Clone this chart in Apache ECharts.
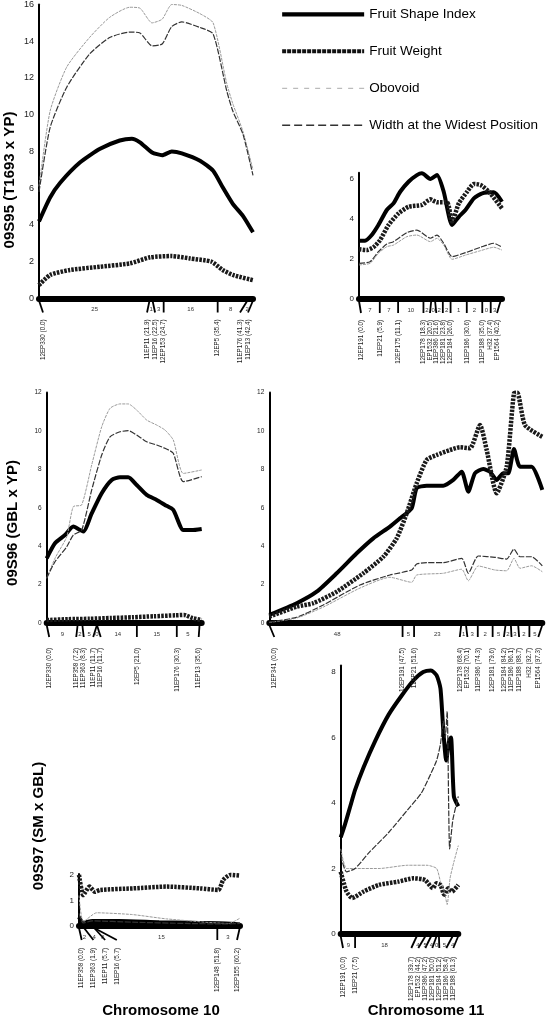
<!DOCTYPE html>
<html><head><meta charset="utf-8">
<script src="https://cdn.jsdelivr.net/npm/echarts@6/dist/echarts.min.js"></script>
<style>html,body{margin:0;padding:0;background:#fff}#c{width:549px;height:1023px}</style>
</head><body><div id="c"></div>
<script>
const seriesNames = ['Fruit Shape Index','Fruit Weight','Obovoid','Width at the Widest Position'];

// Panel 1: 09S95, chromosome 10
const p1Markers = ['12EP330','11EP11','11EP16','12EP153','12EP5','11EP176','11EP13'];
const p1Pos = [0.0,21.9,22.5,24.7,35.4,41.3,42.4];
const p1Intervals = ['25','1','3','16','8','2'];
const p1FSI = [[0,4.2],[2.2,5.5],[4.2,6.3],[8.1,7.4],[12.1,8.15],[16,8.6],[18.4,8.7],[20,8.5],[22.4,7.95],[24.4,7.8],[26.3,8.0],[28.3,7.9],[31.9,7.5],[34.5,6.95],[36.4,6.05],[38.4,5.15],[40.4,4.5],[42.4,3.6]];
const p1FW = [[0,0.73],[2.2,1.28],[6.1,1.55],[12.1,1.73],[18,1.91],[22,2.24],[26.3,2.31],[29.9,2.18],[34.2,2.0],[36.4,1.55],[38.4,1.28],[42.4,1.0]];
const p1Obo = [[0,6.1],[2.2,10.2],[5.5,12.6],[10,14.2],[14,15.3],[18,15.85],[20,15.8],[22.4,15.0],[24.4,15.2],[26.3,16.0],[28.3,15.95],[31.9,15.5],[34.5,15.0],[37.2,11.7],[38.4,10.6],[40.4,9.1],[42.4,7.0]];
const p1Wid = [[0,5.8],[2.2,9.3],[5.5,11.5],[10,13.3],[14,14.2],[18,14.5],[20,14.45],[22.4,13.75],[24.4,13.85],[26.3,14.8],[28.3,15.05],[31.9,14.75],[34.5,14.4],[37.2,11.3],[38.4,10.2],[40.4,8.95],[42.4,6.7]];

// Panel 2: 09S95, chromosome 11
const p2Markers = ['12EP191','11EP21','12EP175','12EP178','EP1532','11EP386','12EP181','12EP184','11EP186','11EP188','H32','EP1564'];
const p2Pos = [0.0,5.9,11.1,18.3,20.5,21.6,23.8,26.0,30.6,35.0,37.4,40.2];
const p2Intervals = ['7','7','10','2','0','2','2','1','2','0','3'];
const p2FSI = [[0,2.91],[1.71,2.91],[3.61,3.19],[5.51,3.69],[7.89,4.44],[9.79,4.77],[11.69,5.35],[14.07,5.85],[16.44,6.18],[17.87,6.27],[20.25,5.99],[22.15,6.18],[24.05,5.35],[26.43,3.69],[28.33,4.1],[30.23,4.44],[32.61,5.02],[34.99,5.27],[38.3,5.32],[40.6,4.85]];
const p2FW = [[0,2.48],[2.19,2.44],[4.09,2.58],[5.99,2.94],[8.37,3.69],[11.22,4.27],[14.07,4.6],[17.87,4.69],[20.25,4.97],[22.15,4.82],[25.0,4.82],[26.43,3.86],[28.33,4.77],[30.71,5.35],[32.61,5.74],[34.5,5.69],[36.88,5.35],[40.6,4.52]];
const p2Obo = [[0,1.7],[3.14,1.78],[5.51,2.28],[7.89,2.61],[9.79,2.69],[13.59,3.11],[16.44,3.19],[20.25,2.86],[22.15,3.03],[24.05,2.69],[26.43,1.98],[30.23,2.19],[34.5,2.41],[38.3,2.58],[40.6,2.44]];
const p2Wid = [[0,1.78],[3.14,1.86],[5.51,2.36],[7.89,2.74],[9.79,2.86],[13.59,3.31],[16.44,3.44],[20.25,3.03],[22.15,3.19],[24.05,2.78],[26.43,2.11],[30.23,2.31],[34.5,2.58],[38.3,2.78],[40.6,2.58]];

// Panel 3: 09S96, chromosome 10
const p3Markers = ['12EP330','11EP358','11EP363','11EP11','11EP16','12EP5','11EP176','11EP13'];
const p3Pos = [0.0,7.2,8.3,11.7,11.7,21.0,30.3,35.6];
const p3Intervals = ['9','2','5','0','14','15','5'];
const p3FSI = [[0,3.37],[1.93,4.15],[4.26,4.58],[6.19,5.02],[8.52,4.76],[10.48,5.71],[12.81,6.76],[15.14,7.45],[17.07,7.59],[19.0,7.59],[20.96,7.19],[23.29,6.67],[25.62,6.41],[27.55,6.15],[29.48,5.89],[31.81,4.84],[33.77,4.84],[36.1,4.9]];
const p3FW = [[0,0.15],[5,0.2],[10,0.22],[15,0.26],[20,0.3],[25,0.35],[30,0.4],[32,0.42],[34,0.25],[36.1,0.15]];
const p3Obo = [[0,2.33],[1.93,3.37],[4.66,4.49],[6.19,6.06],[8.15,6.15],[10.48,8.23],[12.81,10.22],[14.75,11.18],[17.07,11.41],[19.0,11.41],[20.96,11.09],[23.29,10.57],[25.62,10.31],[27.55,10.05],[29.48,9.53],[31.81,7.79],[36.1,7.97]];
const p3Wid = [[0,2.33],[1.93,3.19],[4.66,3.97],[6.19,4.58],[8.15,4.84],[10.48,6.93],[12.81,8.75],[14.75,9.7],[17.07,9.96],[19.0,10.02],[20.96,9.79],[23.29,9.44],[25.62,9.27],[27.55,9.1],[29.48,8.84],[31.81,7.36],[36.1,7.62]];

// Panel 4: 09S96, chromosome 11
const p4Markers = ['12EP341','12EP191','11EP21','12EP178','EP1532','11EP386','12EP181','12EP184','11EP186','11EP188','H32','EP1564'];
const p4Pos = [0.0,47.5,51.6,68.4,70.1,74.3,79.6,84.2,86.1,88.7,92.7,97.3];
const p4Intervals = ['48','5','23','1','3','2','5','2','3','2','5'];
const p4FSI = [[0,0.42],[9.76,1.03],[16.89,1.63],[24.02,2.59],[31.15,3.63],[37.06,4.41],[43.0,5.02],[46.57,5.45],[50.74,5.97],[52.53,7.02],[56.09,7.15],[62.01,7.15],[65.57,7.45],[68.57,7.88],[70.92,6.84],[73.3,7.8],[76.26,8.02],[78.65,7.88],[81.04,7.45],[83.39,7.8],[85.17,7.8],[87.2,9.06],[89.34,8.14],[93.51,8.14],[97.3,6.93]];
const p4FW = [[0,0.33],[9.76,0.85],[15.68,1.03],[24.02,1.63],[33.5,2.59],[40.63,3.45],[45.4,4.41],[48.97,5.71],[52.53,7.28],[56.09,8.49],[59.66,8.75],[64.4,9.01],[67.96,9.15],[71.53,9.1],[75.09,10.31],[77.48,9.01],[81.04,6.76],[84.6,8.14],[87.2,11.96],[88.38,11.99],[91.13,10.31],[97.3,9.7]];
const p4Obo = [[0,0.03],[9.76,0.26],[19.24,0.83],[32.32,1.82],[43.0,2.38],[50.74,2.12],[52.53,2.5],[62.01,2.59],[68.57,2.8],[70.92,2.2],[74.48,2.97],[80.43,2.76],[84.6,2.72],[87.2,3.37],[89.34,2.85],[93.51,2.98],[97.3,2.67]];
const p4Wid = [[0,0.05],[9.76,0.3],[19.24,0.94],[32.32,1.98],[43.0,2.5],[50.74,2.76],[52.53,3.07],[56.09,3.14],[62.01,3.14],[68.57,3.37],[70.92,2.59],[74.48,3.49],[80.43,3.42],[84.6,3.33],[87.2,3.85],[89.34,3.45],[93.51,3.45],[97.3,2.97]];

// Panel 5: 09S97, chromosome 10
const p5Markers = ['11EP358','11EP363','11EP11','11EP16','12EP148','12EP155'];
const p5Pos = [0.0,1.9,5.7,5.7,51.8,60.2];
const p5Intervals = ['2','4','0','15','3'];
const p5FSI = [[0,0.35],[1.5,0.12],[5,0.2],[15,0.2],[30,0.15],[45,0.12],[55,0.1],[60.3,0.06]];
const p5FW = [[0,2.01],[1.6,1.22],[3.9,1.55],[6.0,1.35],[7.9,1.42],[20.3,1.48],[32.8,1.55],[45.3,1.48],[52.2,1.42],[54.0,1.81],[56.6,2.01],[60.3,1.98]];
const p5Obo = [[0,1.2],[1.6,0.17],[6.6,0.52],[20,0.45],[32.8,0.28],[56.2,0.1],[60.3,0.31]];
const p5Wid = [[0,0.5],[1.5,0.12],[5,0.2],[20,0.15],[40,0.1],[55,0.08],[60.3,0.1]];

// Panel 6: 09S97, chromosome 11
const p6Markers = ['12EP191','11EP21','12EP178','EP1532','11EP386','12EP181','12EP184','11EP186','11EP188'];
const p6Pos = [0.0,7.5,39.7,44.2,47.2,50.0,51.2,58.4,61.3];
const p6Intervals = ['9','18','4','5','4','0','5','4'];
const p6FSI = [[0,2.95],[2,3.3],[5,3.9],[7.5,4.4],[12,5.1],[18,5.9],[25,6.7],[32,7.3],[38,7.75],[43,8.0],[47,8.05],[50,7.9],[52,7.5],[53.5,6.2],[55,5.3],[56.5,5.9],[57.5,6.0],[59,4.2],[61.3,3.9]];
const p6FW = [[0,1.9],[3,1.3],[6,1.1],[12,1.3],[20,1.5],[30,1.6],[38,1.7],[44,1.65],[48,1.4],[50,1.55],[52,1.5],[54,1.2],[56,1.4],[58,1.3],[61.3,1.5]];
const p6Obo = [[0,2.6],[3,2.0],[7.5,2.0],[20,2.0],[35,2.1],[45,2.1],[50,2.0],[52,1.6],[54,1.3],[55.5,0.9],[57,1.7],[59,2.2],[61.3,2.7]];
const p6Wid = [[0,2.4],[3,1.9],[7.5,2.0],[15,2.5],[25,3.1],[35,3.8],[42,4.3],[47,4.9],[50,5.3],[52,5.8],[53.5,6.5],[54.5,6.0],[55.5,6.8],[56.8,2.6],[58.5,3.5],[61.3,4.2]];

const yTickStep = [2,2,2,2,1,2];
const rowTitles = ['09S95 (T1693 x YP)','09S96 (GBL x YP)','09S97 (SM x GBL)'];
const colTitles = ['Chromosome 10','Chromosome 11'];

const FONT = '"Liberation Sans", Arial, Helvetica, sans-serif';

// layout (pixel boxes) per panel
const layout = [
  {left:39, top:3.7, width:214, height:294.8, xmax:42.4, ymax:16, yFont:9, gap:8, lo:4, hi:5, labelTop:18},
  {left:359, top:172.7, width:143, height:126.3, xmax:40.6, ymax:6.3, yFont:8, gap:6.3, lo:2, hi:5, labelTop:18},
  {left:46.7, top:392.6, width:155, height:230.4, xmax:36.1, ymax:12, yFont:6.5, gap:7.5, lo:2.5, hi:3, labelTop:22},
  {left:269.3, top:392.6, width:273, height:230.4, xmax:97.3, ymax:12, yFont:6.5, gap:7.6, lo:5, hi:4, labelTop:22},
  {left:79, top:873.9, width:161, height:52.1, xmax:60.3, ymax:2.05, yFont:8, gap:11.7, lo:2.7, hi:3, labelTop:19},
  {left:340.7, top:665.5, width:117.6, height:268.5, xmax:61.3, ymax:8.2, yFont:8, gap:7, lo:2.3, hi:5, labelTop:20}
];

const panelData = [
  {markers:p1Markers,pos:p1Pos,intervals:p1Intervals,lines:[p1FSI,p1FW,p1Obo,p1Wid]},
  {markers:p2Markers,pos:p2Pos,intervals:p2Intervals,lines:[p2FSI,p2FW,p2Obo,p2Wid]},
  {markers:p3Markers,pos:p3Pos,intervals:p3Intervals,lines:[p3FSI,p3FW,p3Obo,p3Wid]},
  {markers:p4Markers,pos:p4Pos,intervals:p4Intervals,lines:[p4FSI,p4FW,p4Obo,p4Wid]},
  {markers:p5Markers,pos:p5Pos,intervals:p5Intervals,lines:[p5FSI,p5FW,p5Obo,p5Wid]},
  {markers:p6Markers,pos:p6Pos,intervals:p6Intervals,lines:[p6FSI,p6FW,p6Obo,p6Wid]}
];

const lineStyles = [
  {color:'#000', width:4, type:'solid'},
  {color:'#1a1a1a', width:4.5, type:[2.5,1.2]},
  {color:'#9a9a9a', width:1, type:[3,1]},
  {color:'#333', width:1.2, type:[6,1.5]}
];
const legendStyles = [
  {color:'#000', width:4.3, type:'solid'},
  {color:'#111', width:4, type:[4,1]},
  {color:'#aaa', width:1, type:[5,6]},
  {color:'#333', width:1.4, type:[8,4]}
];

// spread marker labels so they keep a minimum gap (isotonic fit)
function spread(xs, gap, lo, hi) {
  const n = xs.length, blocks = [];
  for (let i = 0; i < n; i++) {
    blocks.push({n:1, sum: xs[i] - i*gap});
    while (blocks.length > 1) {
      const b = blocks[blocks.length-1], a = blocks[blocks.length-2];
      if (a.sum/a.n > b.sum/b.n) { a.sum += b.sum; a.n += b.n; blocks.pop(); } else break;
    }
  }
  const zs = [];
  blocks.forEach(b => { for (let k = 0; k < b.n; k++) zs.push(b.sum/b.n); });
  const zmax = hi - (n-1)*gap;
  return zs.map((z,i) => Math.min(Math.max(z, lo), zmax) + i*gap);
}

function makeRender(pd, L) {
  return function(params, api) {
    const y0 = api.coord([0,0])[1];
    const xEnd = api.coord([L.xmax,0])[0];
    const xs = pd.pos.map(p => api.coord([p,0])[0]);
    const lx = spread(xs, L.gap, xs[0] + L.lo, xEnd - L.hi);
    const yb = y0 + 3, yt = yb + 11;
    const ch = [];
    xs.forEach((x,i) => {
      ch.push({type:'line', shape:{x1:x, y1:yb-1, x2:lx[i], y2:yt}, style:{stroke:'#000', lineWidth:1.8}});
      ch.push({type:'text', x:lx[i], y:yb + L.labelTop, rotation:Math.PI/2,
        style:{text: pd.markers[i] + ' (' + pd.pos[i].toFixed(1) + ')', textAlign:'right', textVerticalAlign:'middle',
               font: '6.3px ' + FONT, fill:'#222'}});
    });
    pd.intervals.forEach((t,i) => {
      const cx = ((xs[i]+lx[i])/2 + (xs[i+1]+lx[i+1])/2)/2;
      ch.push({type:'text', x:cx, y:yb + 8, style:{text:t, textAlign:'center', textVerticalAlign:'middle', font:'6px ' + FONT, fill:'#333'}});
    });
    return {type:'group', children:ch};
  };
}

const grid = [], xAxis = [], yAxis = [], series = [];
layout.forEach((L, i) => {
  grid.push({left:L.left, top:L.top, width:L.width, height:L.height, containLabel:false});
  xAxis.push({type:'value', gridIndex:i, min:0, max:L.xmax,
    axisLine:{show:true, onZero:false, lineStyle:{color:'#000', width:6}},
    axisTick:{show:false}, axisLabel:{show:false}, splitLine:{show:false}});
  yAxis.push({type:'value', gridIndex:i, min:0, max:L.ymax, interval:yTickStep[i],
    axisLine:{show:true, lineStyle:{color:'#000', width:2}},
    axisTick:{show:false}, splitLine:{show:false},
    axisLabel:{show:true, fontSize:L.yFont, color:'#222', margin:5, fontFamily:FONT,
      showMaxLabel: (L.ymax % yTickStep[i]) === 0}});
  const pd = panelData[i];
  [2,3,1,0].forEach(k => {
    series.push({type:'line', name:seriesNames[k], xAxisIndex:i, yAxisIndex:i, data:pd.lines[k],
      symbol:'none', smooth:0.2, clip:false, silent:true, color:lineStyles[k].color,
      lineStyle:lineStyles[k], z:2+k});
  });
  series.push({type:'custom', xAxisIndex:i, yAxisIndex:i, data:[[0,0]], clip:false, silent:true,
    renderItem: makeRender(pd, L), z:10});
});

const graphic = [
  {type:'text', x:10, y:180, rotation:Math.PI/2, style:{text:rowTitles[0], font:'bold 15px ' + FONT, textAlign:'center', textVerticalAlign:'middle', fill:'#000'}},
  {type:'text', x:13, y:523, rotation:Math.PI/2, style:{text:rowTitles[1], font:'bold 15px ' + FONT, textAlign:'center', textVerticalAlign:'middle', fill:'#000'}},
  {type:'text', x:39, y:826, rotation:Math.PI/2, style:{text:rowTitles[2], font:'bold 15px ' + FONT, textAlign:'center', textVerticalAlign:'middle', fill:'#000'}},
  {type:'text', x:161, y:1011, style:{text:colTitles[0], font:'bold 15px ' + FONT, textAlign:'center', textVerticalAlign:'middle', fill:'#000'}},
  {type:'text', x:426, y:1011, style:{text:colTitles[1], font:'bold 15px ' + FONT, textAlign:'center', textVerticalAlign:'middle', fill:'#000'}}
];

const chart = echarts.init(document.getElementById('c'), null, {renderer:'canvas'});
chart.setOption({
  backgroundColor:'#fff',
  animation:false,
  grid, xAxis, yAxis, series, graphic,
  legend:{
    orient:'vertical', left:280, top:7.3, padding:0, itemWidth:82, itemHeight:14, itemGap:23,
    selectedMode:false,
    textStyle:{fontSize:13.5, color:'#000', fontFamily:FONT, lineHeight:14},
    data: seriesNames.map((n,k) => ({name:n, lineStyle:legendStyles[k],
      itemStyle:{color:'rgba(0,0,0,0)', borderColor:'rgba(0,0,0,0)', borderWidth:0, opacity:0}}))
  }
});
</script></body></html>
